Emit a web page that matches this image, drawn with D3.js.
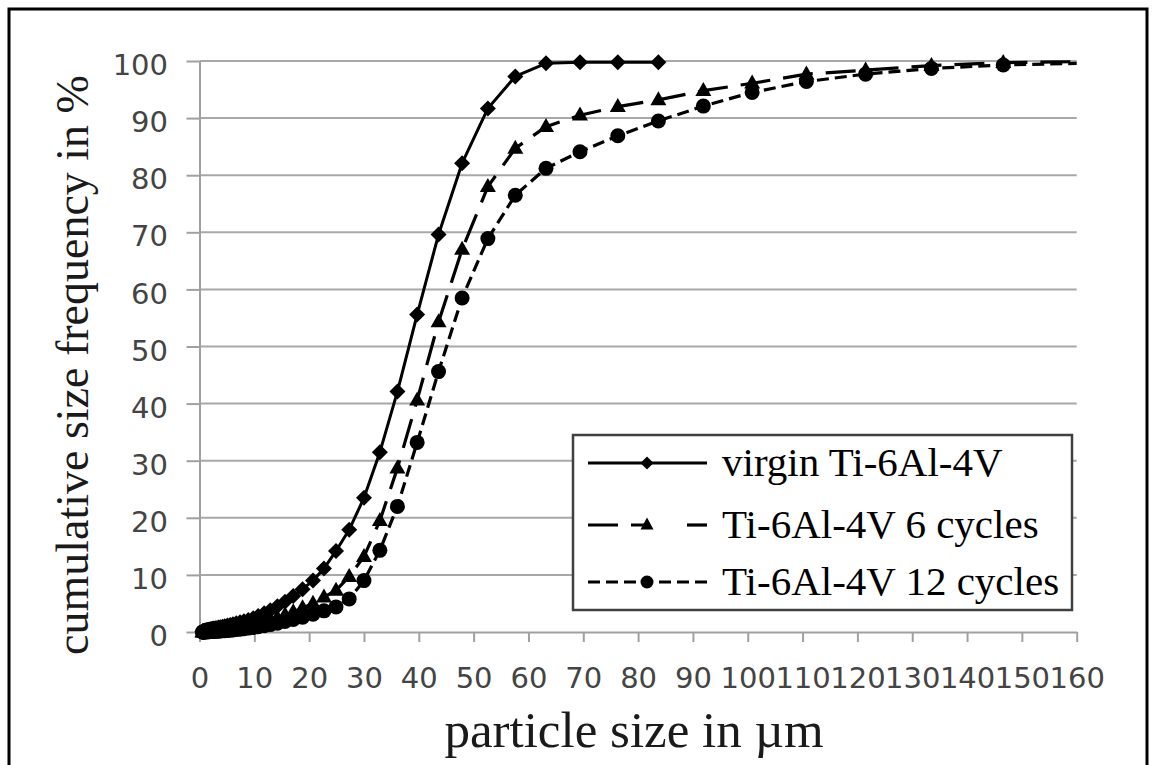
<!DOCTYPE html>
<html><head><meta charset="utf-8">
<script src="https://cdn.jsdelivr.net/npm/d3@7"></script>
<style>body{margin:0;background:#fff}</style>
</head><body>
<svg id="c" width="1152" height="765" xmlns="http://www.w3.org/2000/svg"></svg>
<script>
// ---- data ----
const sizes = [0.54, 0.59, 0.65, 0.71, 0.78, 0.86, 0.94, 1.03, 1.13, 1.25, 1.37, 1.5, 1.65, 1.8, 2.0, 2.2, 2.4, 2.6, 2.9, 3.2, 3.5, 3.8, 4.2, 4.6, 5.1, 5.6, 6.1, 6.7, 7.4, 8.1, 8.9, 9.8, 10.7, 11.8, 12.9, 14.2, 15.6, 17.1, 18.8, 20.7, 22.7, 24.9, 27.3, 30.0, 32.9, 36.1, 39.7, 43.6, 47.9, 52.6, 57.6, 63.2, 69.4, 76.3, 83.7, 91.9, 100.8, 110.7, 121.5, 133.5, 146.6, 161.0];
const virgin = [0.05, 0.08, 0.1, 0.13, 0.16, 0.19, 0.22, 0.25, 0.28, 0.31, 0.34, 0.37, 0.4, 0.43, 0.47, 0.51, 0.55, 0.6, 0.65, 0.71, 0.78, 0.85, 0.93, 1.02, 1.12, 1.24, 1.37, 1.52, 1.7, 1.9, 2.1, 2.4, 2.8, 3.3, 3.8, 4.5, 5.3, 6.3, 7.5, 9.0, 11.1, 14.2, 17.9, 23.5, 31.5, 42.1, 55.6, 69.6, 82.1, 91.7, 97.3, 99.6, 99.8, 99.8, 99.8];
const cycles6 = [0.01, 0.02, 0.02, 0.03, 0.03, 0.04, 0.04, 0.05, 0.06, 0.07, 0.08, 0.09, 0.1, 0.11, 0.12, 0.14, 0.16, 0.18, 0.21, 0.24, 0.27, 0.31, 0.36, 0.41, 0.47, 0.54, 0.62, 0.71, 0.82, 0.95, 1.1, 1.3, 1.5, 1.8, 2.1, 2.5, 3.0, 3.5, 4.2, 5.0, 6.1, 7.3, 9.7, 13.2, 19.5, 28.7, 40.6, 54.3, 67.0, 78.0, 84.7, 88.5, 90.5, 92.0, 93.2, 94.8, 96.1, 97.7, 98.4, 99.2, 99.7, 99.9];
const cycles12 = [0.01, 0.01, 0.01, 0.01, 0.02, 0.02, 0.02, 0.03, 0.03, 0.04, 0.04, 0.05, 0.05, 0.06, 0.07, 0.08, 0.09, 0.1, 0.12, 0.14, 0.16, 0.18, 0.21, 0.24, 0.28, 0.32, 0.37, 0.43, 0.5, 0.58, 0.68, 0.8, 0.93, 1.1, 1.3, 1.55, 1.85, 2.2, 2.6, 3.1, 3.7, 4.4, 5.8, 9.0, 14.3, 22.0, 33.2, 45.6, 58.5, 68.9, 76.5, 81.2, 84.1, 86.9, 89.5, 92.1, 94.5, 96.4, 97.7, 98.7, 99.3, 99.6];
const seriesNames = ["virgin Ti-6Al-4V", "Ti-6Al-4V 6 cycles", "Ti-6Al-4V 12 cycles"];
const xTicks = [0, 10, 20, 30, 40, 50, 60, 70, 80, 90, 100, 110, 120, 130, 140, 150, 160];
const yTicks = [0, 10, 20, 30, 40, 50, 60, 70, 80, 90, 100];
const xTitle = "particle size in µm";
const yTitle = "cumulative size frequency in %";

// ---- drawing ----
const svg = d3.select("#c");
const x = d3.scaleLinear().domain([0, 160]).range([199.5, 1076.7]);
const y = d3.scaleLinear().domain([0, 100]).range([632, 61]);

svg.append("rect").attr("x", 9).attr("y", 9).attr("width", 1138).attr("height", 800)
  .attr("fill", "#fff").attr("stroke", "#000").attr("stroke-width", 3);

svg.append("defs").append("clipPath").attr("id", "clip")
  .append("rect").attr("x", 0).attr("y", 0).attr("width", x(160)).attr("height", 765);

// gridlines
svg.append("g").selectAll("line").data(yTicks.filter(d => d > 0)).join("line")
  .attr("x1", x(0)).attr("x2", x(160)).attr("y1", d => y(d)).attr("y2", d => y(d))
  .attr("stroke", "#a8a8a8").attr("stroke-width", 2);

const tickFont = "'DejaVu Sans', Verdana, sans-serif";
const yAxis = svg.append("g").attr("transform", `translate(${x(0)},0)`)
  .call(d3.axisLeft(y).tickValues(yTicks).tickSize(13).tickSizeOuter(0).tickPadding(18.5));
const xAxis = svg.append("g").attr("transform", `translate(0,${y(0)})`)
  .call(d3.axisBottom(x).tickValues(xTicks).tickSize(10).tickSizeOuter(0).tickPadding(25));
[yAxis, xAxis].forEach(g => {
  g.select(".domain").attr("stroke", "#a0a0a0").attr("stroke-width", 2);
  g.selectAll(".tick line").attr("stroke", "#a0a0a0").attr("stroke-width", 2);
  g.selectAll(".tick text").attr("fill", "#444").style("font-family", tickFont).style("font-size", "29px");
});
yAxis.selectAll(".tick text").attr("dy", "0.47em");

// titles
svg.append("text").attr("x", 634).attr("y", 747).attr("text-anchor", "middle")
  .style("font-family", "'Liberation Serif', 'Times New Roman', serif").style("font-size", "51px")
  .attr("fill", "#1a1a1a").text(xTitle);
svg.append("text").attr("transform", "translate(88,365) rotate(-90)").attr("text-anchor", "middle")
  .style("font-family", "'Liberation Serif', 'Times New Roman', serif").style("font-size", "46px")
  .attr("fill", "#1a1a1a").text(yTitle);

// markers
const diamond = r => `M0,${-r}L${r},0L0,${r}L${-r},0Z`;
const triangle = (w, h) => `M0,${-h * 0.62}L${w / 2},${h * 0.38}L${-w / 2},${h * 0.38}Z`;
const series = [
  {name: seriesNames[0], vals: virgin, dash: null, width: 3, mark: "diamond"},
  {name: seriesNames[1], vals: cycles6, dash: "30,13", width: 3.2, mark: "triangle"},
  {name: seriesNames[2], vals: cycles12, dash: "12,6", width: 3.2, mark: "circle"}
];
function drawMarker(g, kind, big) {
  if (kind === "diamond") g.append("path").attr("d", diamond(big ? 8 : 6.5));
  else if (kind === "triangle") g.append("path").attr("d", big ? triangle(16, 14) : triangle(13, 12));
  else g.append("circle").attr("r", big ? 7.5 : 6.5);
}
const plot = svg.append("g").attr("clip-path", "url(#clip)");
series.forEach(s => {
  const pts = s.vals.map((v, i) => [sizes[i], v]);
  const line = d3.line().x(d => x(d[0])).y(d => y(d[1]));
  plot.append("path").attr("d", line(pts)).attr("fill", "none").attr("stroke", "#000")
    .attr("stroke-width", s.width).attr("stroke-dasharray", s.dash).attr("stroke-linejoin", "round");
  pts.filter(d => d[0] <= 160).forEach(d => {
    const g = plot.append("g").attr("transform", `translate(${x(d[0])},${y(d[1])})`).attr("fill", "#000");
    drawMarker(g, s.mark, true);
  });
});

// legend
const lg = svg.append("g");
lg.append("rect").attr("x", 573).attr("y", 435).attr("width", 499).attr("height", 175)
  .attr("fill", "#fff").attr("stroke", "#404040").attr("stroke-width", 2.5);
const rowsY = [463, 525, 582];
series.forEach((s, i) => {
  const cy = rowsY[i];
  lg.append("line").attr("x1", 588).attr("x2", 647).attr("y1", cy).attr("y2", cy)
    .attr("stroke", "#000").attr("stroke-width", s.width).attr("stroke-dasharray", s.dash);
  lg.append("line").attr("x1", 707).attr("x2", 647).attr("y1", cy).attr("y2", cy)
    .attr("stroke", "#000").attr("stroke-width", s.width).attr("stroke-dasharray", s.dash === "30,13" ? "20,40" : s.dash);
  const g = lg.append("g").attr("transform", `translate(647,${cy})`).attr("fill", "#000");
  drawMarker(g, s.mark, false);
  lg.append("text").attr("x", 722).attr("y", cy + 13)
    .style("font-family", "'Liberation Serif', 'Times New Roman', serif").style("font-size", "41px")
    .attr("fill", "#000").text(s.name);
});
</script></body></html>
